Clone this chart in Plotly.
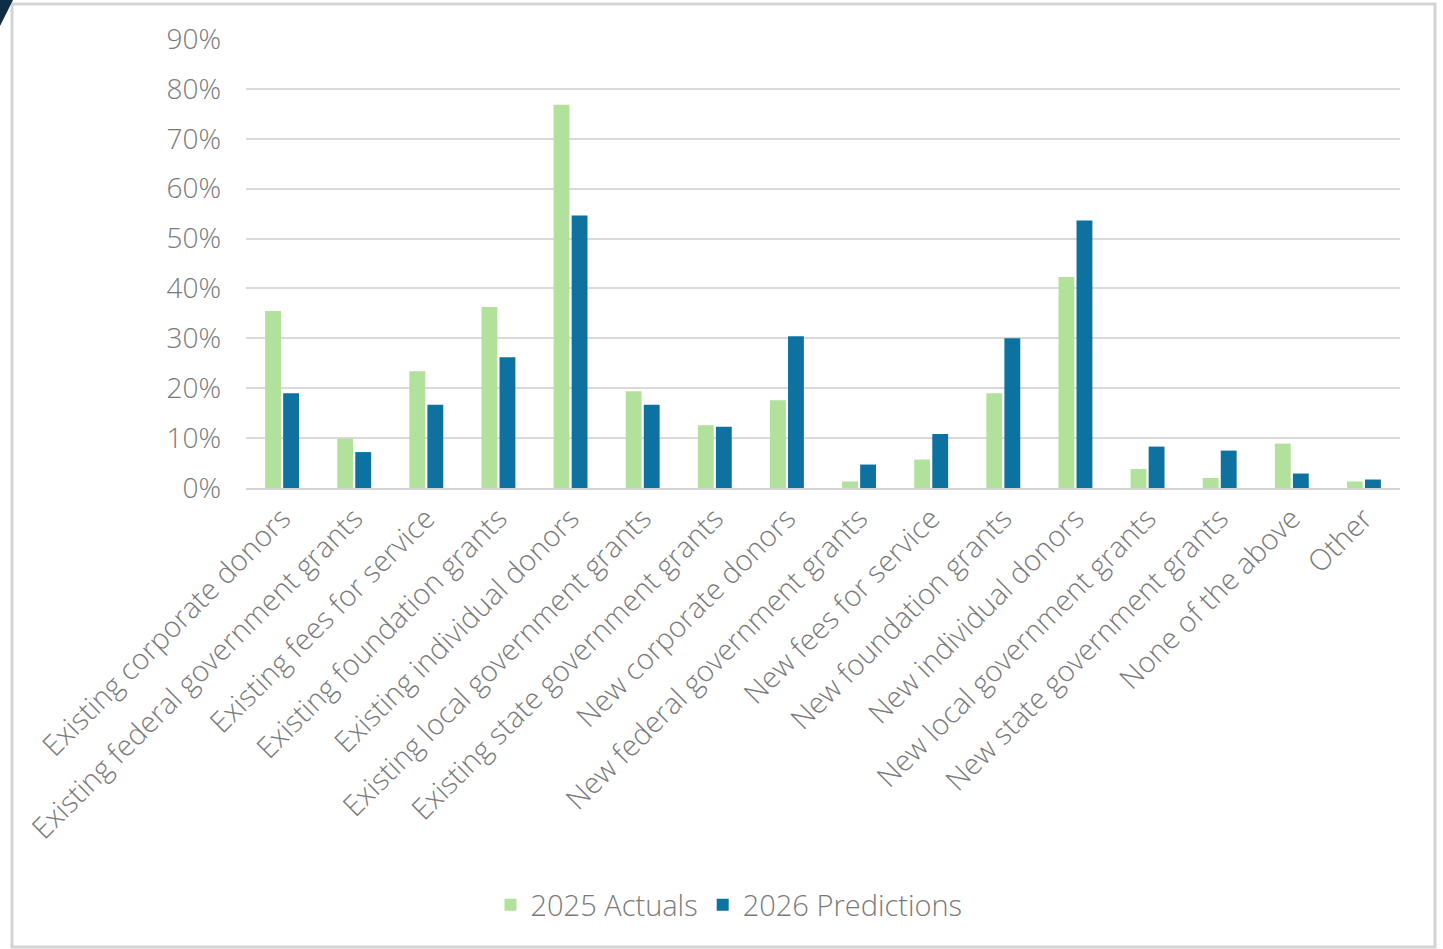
import plotly.graph_objects as go

categories = [
    "Existing corporate donors",
    "Existing federal government grants",
    "Existing fees for service",
    "Existing foundation grants",
    "Existing individual donors",
    "Existing local government grants",
    "Existing state government grants",
    "New corporate donors",
    "New federal government grants",
    "New fees for service",
    "New foundation grants",
    "New individual donors",
    "New local government grants",
    "New state government grants",
    "None of the above",
    "Other",
]
actuals_2025 = [35.5, 9.9, 23.4, 36.3, 76.8, 19.4, 12.6, 17.6, 1.3, 5.7, 19.0, 42.3, 3.8, 2.0, 8.9, 1.3]
predictions_2026 = [19.0, 7.2, 16.7, 26.2, 54.6, 16.7, 12.3, 30.4, 4.7, 10.8, 30.0, 53.6, 8.3, 7.5, 2.9, 1.7]
y_ticks = [0, 10, 20, 30, 40, 50, 60, 70, 80, 90]

W, H = 1443, 949
ML, MR, MT, MB = 246, 43, 39, 461
PW, PH = W - ML - MR, H - MT - MB

FONT = "Open Sans"
TEXT = "#7a7a7a"
GREEN = "#b1e19b"
BLUE = "#0d72a0"


def px(x):
    return (x - ML) / PW


def py(y):
    return (H - MB - y) / PH


fig = go.Figure()
fig.add_trace(go.Bar(x=categories, y=actuals_2025, name="2025 Actuals",
                     marker=dict(color=GREEN, line_width=0)))
fig.add_trace(go.Bar(x=categories, y=predictions_2026, name="2026 Predictions",
                     marker=dict(color=BLUE, line_width=0)))

shapes = [
    # outer frame
    dict(type="rect", xref="paper", yref="paper",
         x0=px(12), x1=px(1435), y0=py(947), y1=py(4),
         line=dict(color="#d4d4d4", width=3), fillcolor="rgba(0,0,0,0)", layer="below"),
    # corner accent
    dict(type="path", xref="paper", yref="paper",
         path=f"M {px(0)},{py(0)} L {px(13)},{py(0)} L {px(0)},{py(26)} Z",
         line=dict(width=0), fillcolor="#0f2d44"),
]

fig.update_layout(
    width=W, height=H,
    margin=dict(l=ML, r=MR, t=MT, b=MB),
    paper_bgcolor="white", plot_bgcolor="white",
    barmode="group", bargap=0.5, bargroupgap=0.12,
    font=dict(family=FONT, color=TEXT, size=28, weight=300),
    showlegend=True,
    legend=dict(orientation="h", x=px(729), xanchor="center", y=py(905), yanchor="middle",
                font=dict(size=29, color=TEXT, weight=300), itemsizing="constant",
                traceorder="normal", itemwidth=30),
    shapes=shapes,
)
fig.update_xaxes(
    showgrid=False, tickangle=-45, tickfont=dict(size=29, color=TEXT, weight=300),
    showline=True, linecolor="#d4d4d4", linewidth=2, ticks="",
    range=[-0.5, len(categories) - 0.5],
)
fig.update_yaxes(
    range=[0, 90], tickvals=y_ticks, ticktext=[f"{v}%" for v in y_ticks],
    showgrid=True, gridcolor="#d9d9d9", gridwidth=2, zeroline=False,
    tickfont=dict(size=28, color=TEXT, weight=300), ticklabelstandoff=24,
    showline=False, ticks="",
)

fig.write_html("out.html")
